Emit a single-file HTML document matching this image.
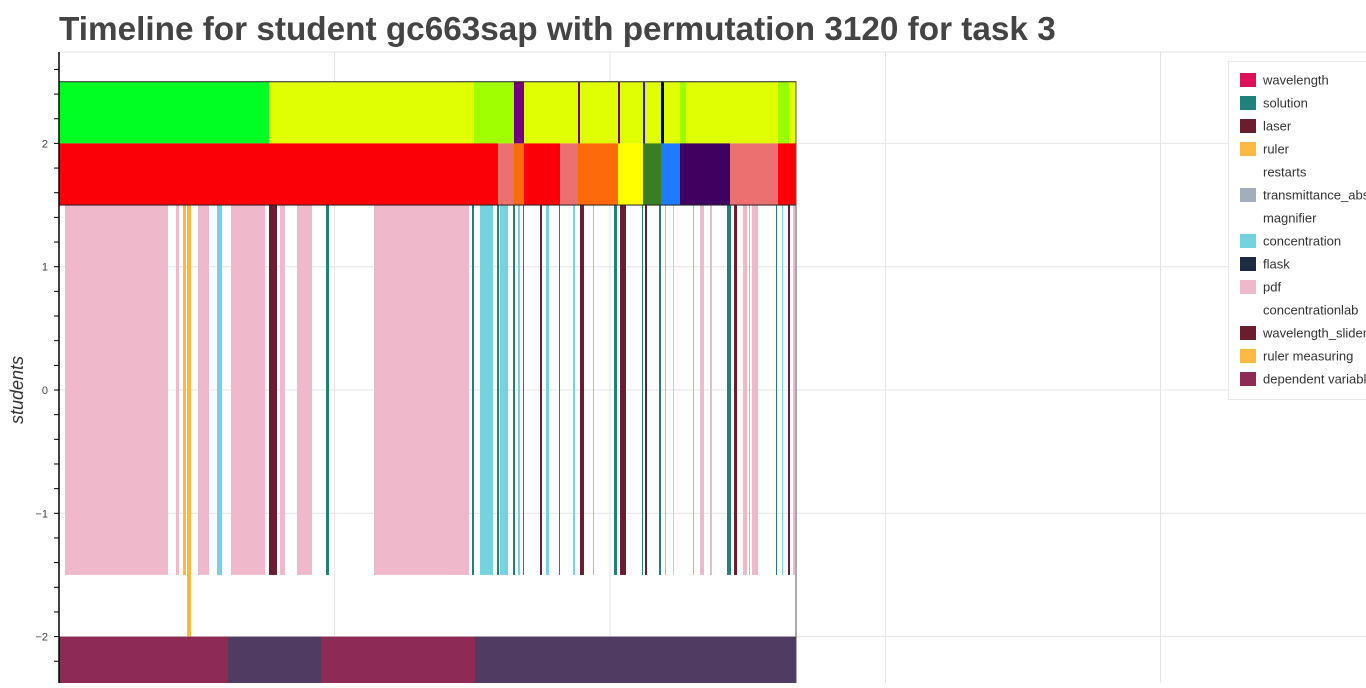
<!DOCTYPE html>
<html><head><meta charset="utf-8"><style>
body{margin:0;width:1366px;height:683px;overflow:hidden;background:#fff;font-family:"Liberation Sans",sans-serif}
</style></head><body>
<svg id="c" width="1366" height="683" xmlns="http://www.w3.org/2000/svg">
<text x="59" y="40" font-size="33.3" font-weight="bold" fill="#444">Timeline for student gc663sap with permutation 3120 for task 3</text>
<text transform="translate(23,390) rotate(-90)" text-anchor="middle" font-size="18" font-style="italic" fill="#333">students</text>
</svg>
<script>
const xGrid=[275.5,551,826.5,1101.5];
const yTicks=[2,1,0,-1,-2];
const yTickLabels=["2","1","0","\u22121","\u22122"];
const topStarts=[0,210,415,455,465,519,521,559,561,584,586,602,605,621,627,719,730];
const topEnds=[210,415,455,465,519,521,559,561,584,586,602,605,621,627,719,730,737];
const topColors=["#00ff22","#e0ff00","#a0ff00","#700080","#e0ff00","#700080","#e0ff00","#700080","#e0ff00","#3010ff","#e0ff00","#000","#e0ff00","#a0ff00","#e0ff00","#98ff00","#e0ff00"];
const midStarts=[0,439,455,465,501,519,559,584,602,621,671,719];
const midEnds=[439,455,465,501,519,559,584,602,621,671,719,737];
const midColors=["#fb0007","#ec7070","#fc6a0c","#fb0007","#ec7070","#fc6a0c","#ffff00","#3a7d22","#1e7bff","#3f0060","#ec7070","#fb0007"];
const barStarts=[6,117,124,139,158,172,210,221,238,267,315,413,421,438,441,454,459,464,481,487,500,514,521,534,555,561,583,586,600,606,614,634,641,651,668,675,684,690,693,717,723,729,734,128];
const barEnds=[109,120,127,150,163,206,218,226,253,270,410,415,434,440,449,456,461,465,483,490,501,516,525,535,558,567,584,588,602,607,615,635,645,653,672,678,688,691,699,718,724,731,736,132];
const barColors=["pdf","pdf","ruler","pdf","conc","pdf","laser","pdf","pdf","sol","pdf","sol","conc","sol","conc","sol","conc","sol","laser","conc","sol","conc","laser","conc","sol","laser","sol","laser","sol","conc","pdf","conc","pdf","pdf","sol","laser","pdf","conc","pdf","sol","conc","laser","pdf","ruler"];
const barLow=[-1.5,-1.5,-1.5,-1.5,-1.5,-1.5,-1.5,-1.5,-1.5,-1.5,-1.5,-1.5,-1.5,-1.5,-1.5,-1.5,-1.5,-1.5,-1.5,-1.5,-1.5,-1.5,-1.5,-1.5,-1.5,-1.5,-1.5,-1.5,-1.5,-1.5,-1.5,-1.5,-1.5,-1.5,-1.5,-1.5,-1.5,-1.5,-1.5,-1.5,-1.5,-1.5,-1.5,-2];
const botStarts=[0,169,262,416];
const botEnds=[169,262,416,737];
const botColors=["#8d2b55","#503b62","#8d2b55","#503b62"];
const legendLabels=["wavelength","solution","laser","ruler","restarts","transmittance_absorbance","magnifier","concentration","flask","pdf","concentrationlab","wavelength_slider","ruler measuring","dependent variable"];
const legendColors=["#dc1259","#20817a","#6b1d30","#ffb943",null,"#a3aebb",null,"#75d3df","#1d2b40","#efb8cb",null,"#6b1d30","#ffb943","#8d2b55"];
const cmap={pdf:"#efb8cb",ruler:"#ffb943",conc:"#75d3df",laser:"#6b1d30",sol:"#20817a"};
const X0=59,Y0=390,YS=123.3;
const xs=t=>X0+t, ys=v=>Y0-v*YS;
const svg=document.getElementById('c');
const NS="http://www.w3.org/2000/svg";
function mk(tag,at){const e=document.createElementNS(NS,tag);for(const k in at)e.setAttribute(k,at[k]);svg.appendChild(e);return e;}
for(const g of xGrid){const l=mk('line',{x1:xs(g),x2:xs(g),y1:52,y2:683,stroke:'#e4e4e4'});

}
for(const v of yTicks){const l=mk('line',{x1:59,x2:1366,y1:ys(v),y2:ys(v),stroke:'#e4e4e4'});

}
mk('line',{x1:59,x2:1366,y1:52,y2:52,stroke:'#e4e4e4'});
function band(s,e,cols,lo,hi,name){for(let i=0;i<s.length;i++){const r=mk('rect',{x:xs(s[i]),y:ys(hi),width:xs(e[i])-xs(s[i]),height:ys(lo)-ys(hi),fill:cols[i]});

}}
band(topStarts,topEnds,topColors,2,2.5,'top-band-segment');
band(midStarts,midEnds,midColors,1.5,2,'mid-band-segment');
band(botStarts,botEnds,botColors,-2.6,-2,'bottom-band-segment');
for(let i=0;i<barStarts.length;i++){const r=mk('rect',{x:xs(barStarts[i]),y:ys(1.5),width:Math.max(1,xs(barEnds[i])-xs(barStarts[i])),height:ys(barLow[i])-ys(1.5),fill:cmap[barColors[i]]});

}
mk('rect',{x:59,y:ys(2.5),width:737,height:ys(1.5)-ys(2.5),fill:'none',stroke:'#222','stroke-width':1});
mk('line',{x1:796,x2:796,y1:82,y2:683,stroke:'#555'});
const ax=mk('line',{x1:59,x2:59,y1:52,y2:683,stroke:'#000','stroke-width':1.5});


for(let v=-2.4;v<=2.61;v+=0.2){const y=ys(Math.round(v*10)/10);mk('line',{x1:54,x2:59,y1:y,y2:y,stroke:'#000'});}
for(let i=0;i<yTicks.length;i++){const t=mk('text',{x:48,y:ys(yTicks[i])+4,'text-anchor':'end','font-size':11,fill:'#444'});t.textContent=yTickLabels[i];

}
const lg=mk('rect',{x:1228.5,y:61.5,width:150,height:338,fill:'#fff',stroke:'#e8e8e8'});


for(let i=0;i<legendLabels.length;i++){const y=80+i*23;
if(legendColors[i]){const r=mk('rect',{x:1240,y:y-7,width:16,height:14,fill:legendColors[i]});

}
const t=mk('text',{x:1263,y:y+4.5,'font-size':13,fill:'#333'});t.textContent=legendLabels[i];

}
</script>
</body></html>
